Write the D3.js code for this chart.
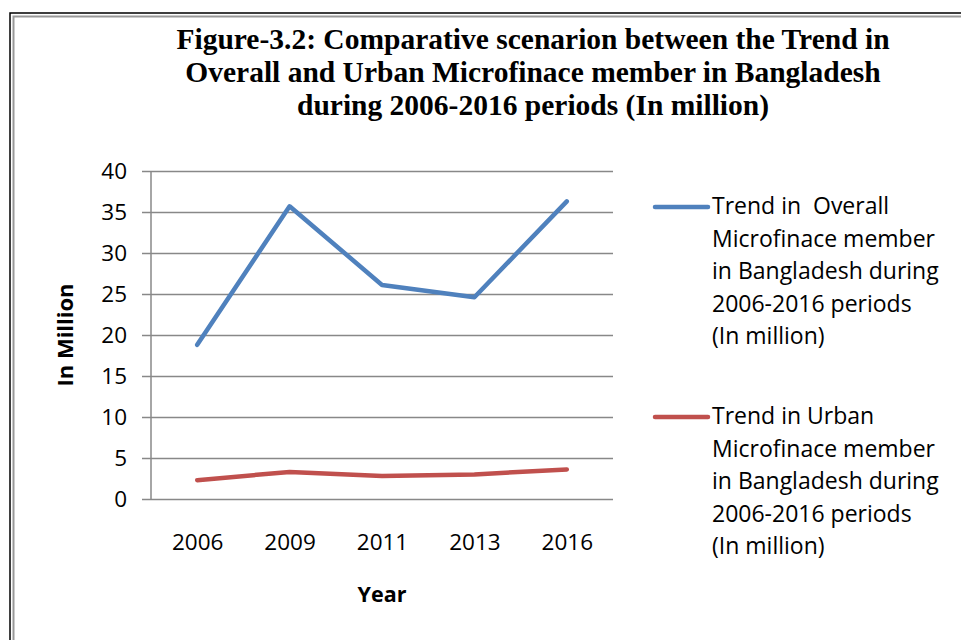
<!DOCTYPE html>
<html lang="en">
<head>
    <meta charset="UTF-8">
    <title>Overall vs Urban Microfinance members</title>
    <script src="https://cdn.jsdelivr.net/npm/d3@7"></script>
    <style>
        body { margin: 0; background: #fff; }
    </style>
</head>
<body>
    <div id="chart"></div>

    <script>
        // data (million members)
        var years = ["2006", "2009", "2011", "2013", "2016"];
        var overall = [18.8, 35.7, 26.1, 24.6, 36.3];
        var urban = [2.3, 3.3, 2.8, 3.0, 3.6];
        var yTicks = [0, 5, 10, 15, 20, 25, 30, 35, 40];
        var titleLines = [
            "Figure-3.2: Comparative scenarion between the Trend in",
            "Overall and Urban Microfinace member in Bangladesh",
            "during 2006-2016 periods (In million)"
        ];
        var legendOverall = ["Trend in  Overall", "Microfinace member", "in Bangladesh during", "2006-2016 periods", "(In million)"];
        var legendUrban = ["Trend in Urban", "Microfinace member", "in Bangladesh during", "2006-2016 periods", "(In million)"];

        var width = 961, height = 640;
        var plot = { left: 151, right: 613, top: 171, bottom: 499 };
        var sans = "'Open Sans', 'Noto Sans', sans-serif";

        var svg = d3.select("#chart").append("svg")
            .attr("width", width)
            .attr("height", height);

        // frame (outer black, inner grey)
        svg.append("path")
            .attr("d", "M10,640 V13 H961")
            .attr("fill", "none").attr("stroke", "#000").attr("stroke-width", 1.5);
        svg.append("path")
            .attr("d", "M13.5,640 V16.5 H961")
            .attr("fill", "none").attr("stroke", "#999").attr("stroke-width", 2);

        // title
        svg.append("text")
            .attr("text-anchor", "middle")
            .style("font-family", "'Liberation Serif', 'Times New Roman', serif")
            .style("font-weight", "bold")
            .style("font-size", "29.5px")
            .selectAll("tspan")
            .data(titleLines)
            .join("tspan")
            .attr("x", 533)
            .attr("y", function(d, i) { return 49 + i * 33; })
            .text(function(d) { return d; });

        var x = d3.scalePoint()
            .domain(years)
            .range([plot.left, plot.right])
            .padding(0.5);

        var y = d3.scaleLinear()
            .domain([0, 40])
            .range([plot.bottom, plot.top]);

        // gridlines + y axis
        var yAxis = svg.append("g")
            .attr("transform", "translate(" + plot.left + ",0)")
            .call(d3.axisLeft(y).tickValues(yTicks)
                .tickSizeInner(-(plot.right - plot.left)));
        yAxis.select(".domain").remove();
        yAxis.selectAll(".tick line")
            .attr("x1", -9)
            .attr("stroke", "#888").attr("stroke-width", 1.5);
        yAxis.selectAll(".tick text")
            .attr("x", -24)
            .style("font-family", sans).style("font-size", "22.5px").attr("fill", "#000");

        svg.append("line")
            .attr("x1", plot.left).attr("x2", plot.left)
            .attr("y1", plot.top).attr("y2", plot.bottom)
            .attr("stroke", "#888").attr("stroke-width", 1.5);

        // x axis labels
        var xAxis = svg.append("g")
            .attr("transform", "translate(0," + plot.bottom + ")")
            .call(d3.axisBottom(x).tickSize(0));
        xAxis.select(".domain").remove();
        xAxis.selectAll(".tick text")
            .attr("y", 51).attr("dy", 0)
            .style("font-family", sans).style("font-size", "22.5px").attr("fill", "#000");

        // axis titles
        svg.append("text")
            .attr("transform", "translate(73,335) rotate(-90)")
            .attr("text-anchor", "middle")
            .style("font-family", sans).style("font-weight", "bold").style("font-size", "22px")
            .text("In Million");
        svg.append("text")
            .attr("x", 382).attr("y", 602)
            .attr("text-anchor", "middle")
            .style("font-family", sans).style("font-weight", "bold").style("font-size", "21.5px")
            .text("Year");

        // series lines
        var line = d3.line()
            .x(function(d, i) { return x(years[i]); })
            .y(function(d) { return y(d); });

        var series = [
            { values: overall, color: "#4f81bd", legend: legendOverall, ly: 207 },
            { values: urban, color: "#c0504d", legend: legendUrban, ly: 417 }
        ];

        svg.selectAll("path.series")
            .data(series)
            .join("path")
            .attr("class", "series")
            .attr("d", function(d) { return line(d.values); })
            .attr("fill", "none")
            .attr("stroke", function(d) { return d.color; })
            .attr("stroke-width", 4.5)
            .attr("stroke-linecap", "round")
            .attr("stroke-linejoin", "round");

        // legend
        var lg = svg.selectAll("g.legend")
            .data(series)
            .join("g")
            .attr("class", "legend")
            .attr("transform", function(d) { return "translate(0," + d.ly + ")"; });

        lg.append("line")
            .attr("x1", 655).attr("x2", 708)
            .attr("stroke", function(d) { return d.color; })
            .attr("stroke-width", 4.5)
            .attr("stroke-linecap", "round");

        lg.append("text")
            .style("font-family", sans).style("font-size", "23px")
            .style("white-space", "pre")
            .selectAll("tspan")
            .data(function(d) { return d.legend; })
            .join("tspan")
            .attr("x", 712)
            .attr("y", function(d, i) { return 7 + i * 32.6; })
            .text(function(d) { return d; });
    </script>
</body>
</html>
